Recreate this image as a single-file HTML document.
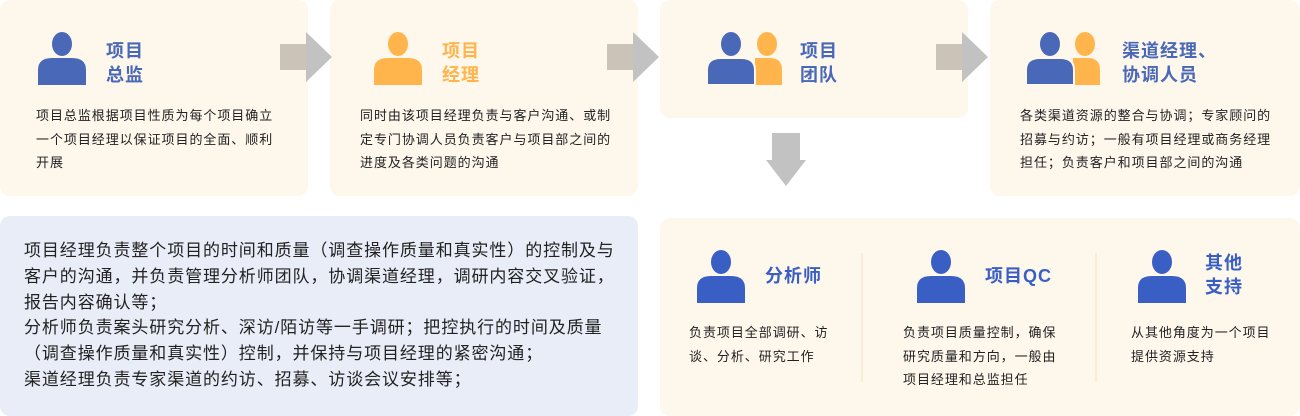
<!DOCTYPE html>
<html><head><meta charset="utf-8"><style>
*{margin:0;padding:0;box-sizing:border-box}
body{width:1300px;height:416px;background:#fff;position:relative;overflow:hidden;font-family:"Liberation Sans","Noto Sans CJK SC",sans-serif;color:#222}
.box{position:absolute;background:#fdf7ec;border-radius:10px}
.t{position:absolute;font-weight:bold;font-size:18px;line-height:24px;letter-spacing:1px}
.d{position:absolute;font-size:13px;line-height:23.5px;letter-spacing:0.95px;color:#222;white-space:nowrap}
svg{position:absolute;overflow:visible}
.b{color:#4a68b8}.o{color:#ffb54c}.b2{color:#3a5fc4}
</style></head><body>
<div class="box" style="left:0;top:0;width:308px;height:196px"></div>
<div class="box" style="left:330;top:0;width:308px;height:196px;left:330px"></div>
<div class="box" style="left:660px;top:0;width:308px;height:118px"></div>
<div class="box" style="left:990px;top:0;width:310px;height:196px"></div>
<div class="box" style="left:0;top:216px;width:638px;height:200px;background:#e9edf8"></div>
<div class="box" style="left:660px;top:218px;width:640px;height:198px"></div>

<!-- arrows -->
<svg style="left:0;top:0" width="1300" height="416">
<g><rect x="280" y="44" width="27" height="26" fill="#cbc3b8"/><polygon points="306,32 332,57 306,82" fill="#c2c2c2"/></g>
<g><rect x="607" y="44" width="27" height="26" fill="#cbc3b8"/><polygon points="633,32 659,57 633,82" fill="#c2c2c2"/></g>
<g><rect x="936" y="44" width="27" height="26" fill="#cbc3b8"/><polygon points="962,32 988,57 962,82" fill="#c2c2c2"/></g>
<g><rect x="772" y="133" width="28" height="28" fill="#c2c2c2"/><polygon points="766,160 806,160 786,186" fill="#c2c2c2"/></g>
<line x1="862" y1="253" x2="862" y2="382" stroke="#f5e3c4" stroke-width="1"/>
<line x1="1096" y1="253" x2="1096" y2="382" stroke="#f5e3c4" stroke-width="1"/>
<!-- icons -->
<defs>
<g id="p"><ellipse cx="0" cy="0" rx="10" ry="12"/><path d="M-24,41 V26 Q-24,14 -10,14 H10 Q24,14 24,26 V41 Z"/></g>
</defs>
<use href="#p" x="62" y="44" fill="#4a68b8"/>
<use href="#p" x="398" y="44" fill="#ffb54c"/>
<g transform="translate(767,44)" fill="#ffb54c"><ellipse cx="0" cy="0" rx="10" ry="12"/><path d="M-12,41 V14 H3 Q15,14 15,26 V41 Z"/></g>
<g transform="translate(731,44)" fill="#4a68b8"><ellipse cx="0" cy="0" rx="10" ry="12" stroke="#fdf7ec" stroke-width="0"/><path d="M-24,41 V26 Q-24,14 -10,14 H10 Q24,14 24,26 V41 Z" stroke="#fdf7ec" stroke-width="2"/></g>
<g transform="translate(1085,44)" fill="#ffb54c"><ellipse cx="0" cy="0" rx="10" ry="12"/><path d="M-12,41 V14 H3 Q15,14 15,26 V41 Z"/></g>
<g transform="translate(1050,44)" fill="#4a68b8"><ellipse cx="0" cy="0" rx="10" ry="12"/><path d="M-24,41 V26 Q-24,14 -10,14 H10 Q24,14 24,26 V41 Z" stroke="#fdf7ec" stroke-width="2"/></g>
<use href="#p" x="721" y="262" fill="#3a5fc4"/>
<use href="#p" x="941" y="262" fill="#3a5fc4"/>
<use href="#p" x="1162" y="262" fill="#3a5fc4"/>
</svg>

<div class="t b" style="left:106px;top:39px">项目<br>总监</div>
<div class="d" style="left:36px;top:104px">项目总监根据项目性质为每个项目确立<br>一个项目经理以保证项目的全面、顺利<br>开展</div>

<div class="t o" style="left:442px;top:39px">项目<br>经理</div>
<div class="d" style="left:360px;top:104px">同时由该项目经理负责与客户沟通、或制<br>定专门协调人员负责客户与项目部之间的<br>进度及各类问题的沟通</div>

<div class="t b" style="left:800px;top:39px">项目<br>团队</div>

<div class="t b" style="left:1122px;top:39px">渠道经理、<br>协调人员</div>
<div class="d" style="left:1020px;top:104px">各类渠道资源的整合与协调；专家顾问的<br>招募与约访；一般有项目经理或商务经理<br>担任；负责客户和项目部之间的沟通</div>

<div class="d" style="left:24px;top:238px;font-size:17px;line-height:25.8px;letter-spacing:0.9px">项目经理负责整个项目的时间和质量（调查操作质量和真实性）的控制及与<br>客户的沟通，并负责管理分析师团队，协调渠道经理，调研内容交叉验证，<br>报告内容确认等；<br>分析师负责案头研究分析、深访/陌访等一手调研；把控执行的时间及质量<br>（调查操作质量和真实性）控制，并保持与项目经理的紧密沟通；<br>渠道经理负责专家渠道的约访、招募、访谈会议安排等；</div>

<div class="t b2" style="left:765px;top:264px">分析师</div>
<div class="d" style="left:689px;top:321px">负责项目全部调研、访<br>谈、分析、研究工作</div>
<div class="t b2" style="left:985px;top:264px">项目QC</div>
<div class="d" style="left:903px;top:321px">负责项目质量控制，确保<br>研究质量和方向，一般由<br>项目经理和总监担任</div>
<div class="t b2" style="left:1205px;top:251px">其他<br>支持</div>
<div class="d" style="left:1131px;top:321px">从其他角度为一个项目<br>提供资源支持</div>
</body></html>
